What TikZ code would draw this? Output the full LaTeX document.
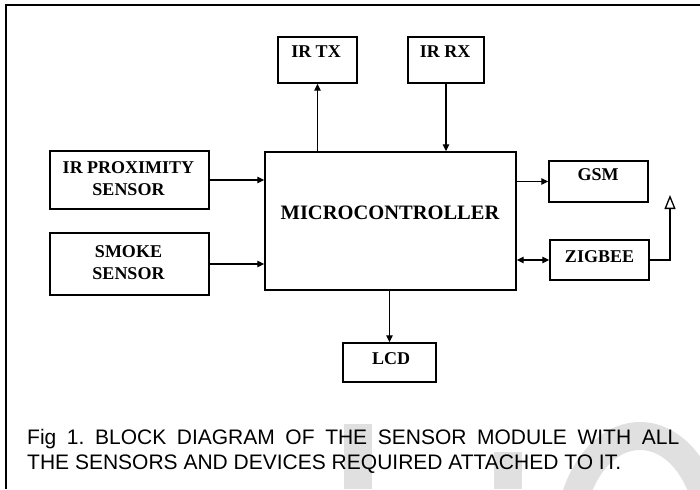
\documentclass[tikz,border=0pt]{standalone}
\usepackage{fontspec}
\setmainfont{Liberation Serif}
\newfontfamily\capfont{Liberation Sans}
\usetikzlibrary{arrows.meta}
\definecolor{wmgrey}{RGB}{224,224,224}
\frenchspacing
\begin{document}
\begin{tikzpicture}[x=1pt,y=-1pt,
  box/.style={draw,line width=1.4pt,inner sep=0pt},
  lbl/.style={inner sep=0pt,align=center,font=\fontsize{18}{22}\selectfont\bfseries},
  arr/.style={line width=1.3pt,-{Triangle[length=7pt,width=6.5pt]}},
  darr/.style={line width=1.3pt,{Triangle[length=7pt,width=6.5pt]}-{Triangle[length=7pt,width=6.5pt]}},
  ant/.style={line width=1.3pt,-{Triangle[open,length=14pt,width=11pt]}}]
\useasboundingbox (0,0) rectangle (700,489);
% watermark
\begin{scope}
\clip (0,0) rectangle (700,489);
\fill[wmgrey] (344,424) rectangle (372,489);
\fill[wmgrey] (494,452) rectangle (522,489);
\fill[wmgrey,even odd rule] (640,540) ellipse [x radius=85, y radius=118] (640,540) ellipse [x radius=57, y radius=90];
\fill[white] (560,540) rectangle (720,600);
\end{scope}
% frame
\draw[line width=2.5pt] (700,5) -- (6,5) -- (6,489);
% boxes
\node[box,minimum width=79pt,minimum height=46pt] (irtx) at (317.5,60) {};
\node[box,minimum width=76pt,minimum height=46pt] (irrx) at (446,60) {};
\node[box,minimum width=159pt,minimum height=58pt] (prox) at (129.5,180) {};
\node[box,minimum width=159pt,minimum height=62pt] (smoke) at (129.5,264) {};
\node[box,minimum width=251pt,minimum height=138pt] (micro) at (390.5,221) {};
\node[box,minimum width=99pt,minimum height=41pt] (gsm) at (598.5,181.5) {};
\node[box,minimum width=99pt,minimum height=40pt] (zig) at (599.5,260) {};
\node[box,minimum width=93pt,minimum height=39pt] (lcd) at (389.5,362.5) {};
% labels
\node[lbl] (irtxl) at (316,52) {IR TX};
\node[lbl] (irrxl) at (445,52) {IR RX};
\node[lbl] (proxl) at (128.5,179) {IR PROXIMITY\\SENSOR};
\node[lbl] (smokel) at (128.5,262.5) {SMOKE\\SENSOR};
\node[lbl,font=\fontsize{20.5}{24}\selectfont\bfseries] (microl) at (390,213) {MICROCONTROLLER};
\node[lbl] (gsml) at (598,175) {GSM};
\node[lbl] (zigl) at (599.5,257) {ZIGBEE};
\node[lbl] (lcdl) at (391,359) {LCD};
% connectors
\coordinate (antn) at (670,195);
\draw[arr] (prox.east) -- (prox.east -| micro.west);
\draw[arr] (smoke.east) -- (smoke.east -| micro.west);
\draw[arr] (irtx.south |- micro.north) -- (irtx.south);
\draw[arr] (irrx.south) -- (irrx.south |- micro.north);
\draw[arr] (micro.east |- gsm.west) -- (gsm.west);
\draw[darr] (micro.east |- zig.west) -- (zig.west);
\draw[arr] (lcd.north |- micro.south) -- (lcd.north);
\draw[ant] (zig.east) -| (antn);
% caption
\node[anchor=base west,inner sep=0pt,font=\capfont\fontsize{21}{24}\selectfont] (cap1) at (27,444) {\makebox[652pt][s]{Fig 1. BLOCK DIAGRAM OF THE SENSOR MODULE WITH ALL}};
\node[anchor=base west,inner sep=0pt,font=\capfont\fontsize{21}{24}\selectfont] (cap2) at (27,469) {THE SENSORS AND DEVICES REQUIRED ATTACHED TO IT.};
\end{tikzpicture}
\end{document}
